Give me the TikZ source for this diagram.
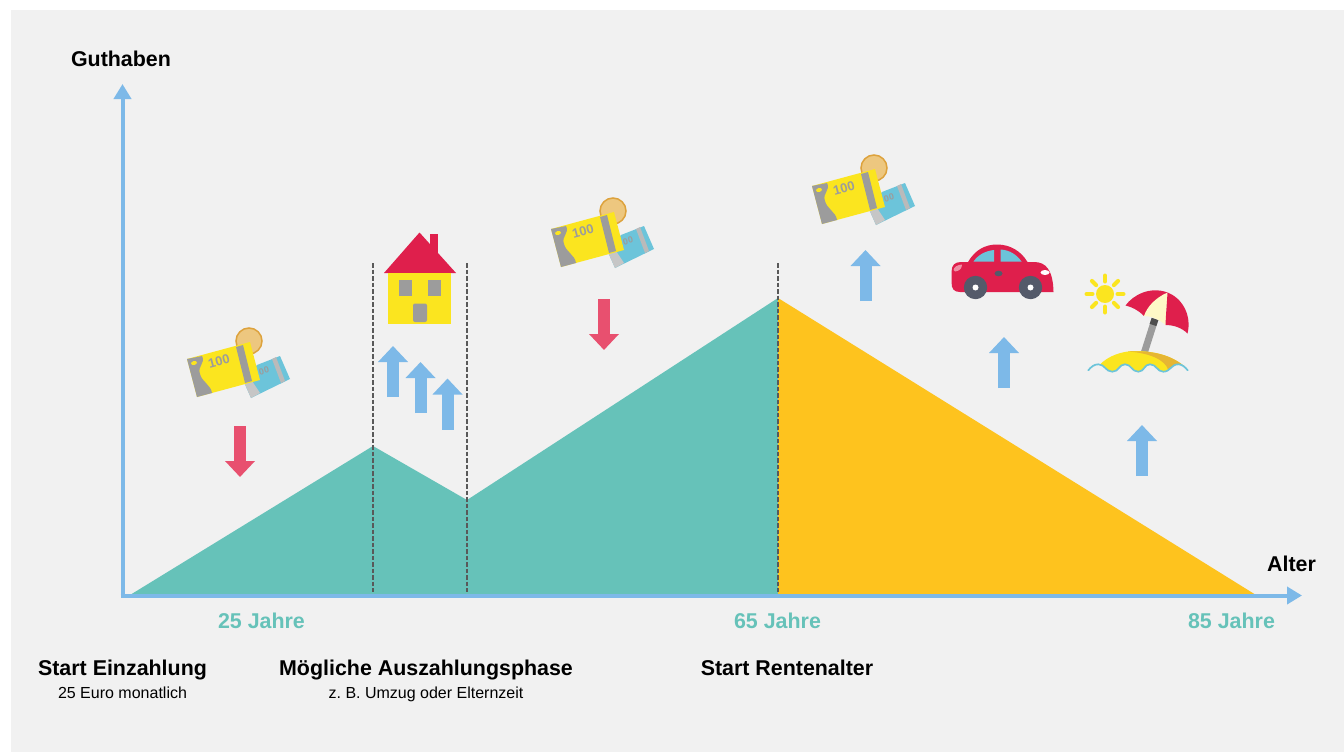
\documentclass[tikz,border=0pt]{standalone}
\usepackage{fontspec}
\setmainfont{Liberation Sans}
\usetikzlibrary{arrows.meta}
\definecolor{bggray}{HTML}{F1F1F1}
\definecolor{axisblue}{HTML}{7DB9E8}
\definecolor{downred}{HTML}{E8506F}
\definecolor{sparteal}{HTML}{66C2B9}
\definecolor{rentyellow}{HTML}{FEC31E}
\definecolor{iconred}{HTML}{DF1F4C}
\definecolor{iconyellow}{HTML}{FBE51F}
\definecolor{icongray}{HTML}{9C9C9C}
\definecolor{iconblue}{HTML}{6CC4DA}
\definecolor{wheelgray}{HTML}{545A6A}
\definecolor{coinfill}{HTML}{EDC77F}
\definecolor{coinedge}{HTML}{DDA23C}

\begin{document}
\frenchspacing
\begin{tikzpicture}[
  x=1pt, y=-1pt,
  axis/.style={draw=axisblue, line width=4pt, -{Triangle[length=15pt,width=17pt]}},
  uparrow/.style={draw=axisblue, line width=12pt, -{Triangle[length=16pt,width=29pt]}},
  downarrow/.style={draw=downred, line width=12pt, -{Triangle[length=16pt,width=29pt]}},
  marker/.style={draw=black!65, dash pattern=on 4.5pt off 2pt, line width=1.2pt},
  heading/.style={font=\bfseries\fontsize{21.4}{25}\selectfont, inner sep=0pt, anchor=base},
  agelabel/.style={font=\bfseries\fontsize{21.4}{25}\selectfont, text=sparteal, inner sep=0pt, anchor=base},
  subline/.style={font=\fontsize{16}{19}\selectfont, inner sep=0pt, anchor=base},
  pics/money/.style={code={
    \fill [coinfill, draw=coinedge, line width=1.5pt] (0,0) circle (13);
    \fill [iconblue] (31,15) -- (41,38) -- (2,57) -- (-5,41) -- (3,30) -- (8,24) -- cycle;
    \fill [gray!45] (-5,41) -- (2,57) -- (11,52) -- (3,40) -- cycle;
    \fill [icongray!70] (23,18) -- (27,16) -- (36,40) -- (32,42) -- cycle;
    \node [rotate=15, text=icongray, inner sep=0pt, font=\bfseries\fontsize{9}{9}\selectfont] (billback) at (15,30) {00};
    \fill [iconyellow] (-62,18) -- (1,1) -- (11,39) -- (-52,56) -- cycle;
    \fill [icongray] (-62,18) -- (-47,15) .. controls (-43,22) and (-52,25) .. (-49,33) .. controls (-47,41) and (-38,44) .. (-37,52) -- (-52,56) -- cycle;
    \fill [iconyellow, rotate around={15:(-55,22)}] (-55,22) ellipse (3 and 2);
    \fill [icongray] (-13,6) -- (-6,4) -- (3,40) -- (-4,42) -- cycle;
    \node [rotate=15, text=icongray, inner sep=0pt, font=\bfseries\fontsize{13}{14}\selectfont] (billfront) at (-30,20) {100};
  }}
  ]
\useasboundingbox (0,0) rectangle (1344,752);
\fill [bggray] (11,10) rectangle (1344,752);

% areas
\fill [sparteal] (130,595) -- (373,446) -- (467,500) -- (778,298) -- (778,595) -- cycle;
\fill [rentyellow] (778,298) -- (1256,595) -- (778,595) -- cycle;

% dashed markers
\coordinate (m1top) at (373,263);
\coordinate (m1bot) at (373,592);
\coordinate (m2top) at (467,263);
\coordinate (m2bot) at (467,592);
\coordinate (m3top) at (778,263);
\coordinate (m3bot) at (778,592);
\draw [marker] (m1top) -- (m1bot);
\draw [marker] (m2top) -- (m2bot);
\draw [marker] (m3top) -- (m3bot);

% axes
\coordinate (ybot) at (122.5,597.5);
\coordinate (ytip) at (122.5,84);
\coordinate (xbot) at (120.5,595.5);
\coordinate (xtip) at (1302,595.5);
\draw [axis] (ybot) -- (ytip);
\draw [axis] (xbot) -- (xtip);
\node [heading] (guthaben) at (121,66.5) {Guthaben};
\node [heading] (alter) at (1291.5,571.5) {Alter};

% arrows
\coordinate (a1s) at (393,397);
\coordinate (a1e) at (393,346);
\coordinate (a2s) at (420.5,413);
\coordinate (a2e) at (420.5,362);
\coordinate (a3s) at (447.5,429.5);
\coordinate (a3e) at (447.5,378.5);
\coordinate (a4s) at (865.5,301);
\coordinate (a4e) at (865.5,250);
\coordinate (a5s) at (1004,388);
\coordinate (a5e) at (1004,337);
\coordinate (a6s) at (1142,476);
\coordinate (a6e) at (1142,425);
\coordinate (d1s) at (240,426);
\coordinate (d1e) at (240,477);
\coordinate (d2s) at (604,299);
\coordinate (d2e) at (604,350);
\draw [uparrow] (a1s) -- (a1e);
\draw [uparrow] (a2s) -- (a2e);
\draw [uparrow] (a3s) -- (a3e);
\draw [uparrow] (a4s) -- (a4e);
\draw [uparrow] (a5s) -- (a5e);
\draw [uparrow] (a6s) -- (a6e);
\draw [downarrow] (d1s) -- (d1e);
\draw [downarrow] (d2s) -- (d2e);

% money
\pic at (249,341) {money};
\pic at (613,211) {money};
\pic at (874,168) {money};

% house
\fill [iconred] (429.5,234) -- (437.5,234) -- (437.5,255) -- (429.5,255) -- cycle;
\fill [iconred] (419.5,232.5) -- (456,273) -- (384,273) -- cycle;
\fill [iconyellow] (388,273) rectangle (451,324);
\fill [icongray] (399,280) rectangle (412,296);
\fill [icongray] (428,280) rectangle (441,296);
\fill [icongray, rounded corners=2pt] (413,322) -- (413,303.5) -- (427,303.5) -- (427,322) -- cycle;

% car
\fill [iconred] (951.5,282) -- (951.5,272) .. controls (951.5,265) and (955,262) .. (961,262)
  -- (968,262) .. controls (975,250) and (985,244.5) .. (997,244.5)
  .. controls (1010,244.5) and (1021,251) .. (1027.5,262)
  -- (1034,262) .. controls (1046,262) and (1053,270) .. (1053.5,292)
  -- (960,292) .. controls (954,292) and (951.5,289) .. (951.5,282) -- cycle;
\fill [iconblue] (973.5,261.5) .. controls (978,255) and (985,251) .. (994,250) -- (994,261.5) -- cycle;
\fill [iconblue] (1000.5,249.5) .. controls (1010,250) and (1017,255) .. (1021.5,261.5) -- (1000.5,261.5) -- cycle;
\fill [iconred!50!white] (953.5,270) .. controls (954,267) and (957,265) .. (962,264.5) .. controls (962,268) and (960,271) .. (955,271.5) -- cycle;
\fill [white] (1045,272.5) ellipse (4.5 and 2.5);
\fill [wheelgray] (998.5,273.5) ellipse (4 and 2.8);
\fill [wheelgray] (975.5,287.5) circle (11.7);
\fill [wheelgray] (1030.5,287.5) circle (11.7);
\fill [white] (975.5,287.5) circle (3);
\fill [white] (1030.5,287.5) circle (3);

% beach
\fill [iconyellow] (1105,294) circle (9);
\foreach \ang in {0,45,...,315}
  \draw [iconyellow, line width=4pt, line cap=round] (1105,294) ++(\ang:12.5) -- ++(\ang:6);
\draw [icongray, line width=7pt] (1155,319) -- (1144.5,352);
\draw [black!50!icongray, line width=7pt] (1155,319) -- (1153,325);
\fill [iconyellow] (1100,364.5) .. controls (1108,356) and (1122,351) .. (1135,351)
  .. controls (1155,351) and (1172,356) .. (1184,366)
  .. controls (1182,365) and (1180,364.3) .. (1178.3,364.3)
  .. controls (1171,364.3) and (1170.5,371.7) .. (1163.3,371.7)
  .. controls (1157,371.7) and (1156.5,364.3) .. (1150,364.3)
  .. controls (1144,364.3) and (1144.5,371.7) .. (1138.3,371.7)
  .. controls (1131.5,371.7) and (1131.5,364.3) .. (1125,364.3)
  .. controls (1119,364.3) and (1119,371.7) .. (1112.3,371.7)
  .. controls (1105.5,371.7) and (1105,364.3) .. (1098.3,364.3) -- cycle;
\fill [coinedge!70!iconyellow] (1128,351.5) .. controls (1155,350) and (1172,356) .. (1184,366)
  .. controls (1182,365) and (1180,364.3) .. (1178.3,364.3)
  .. controls (1174,364.3) and (1172,367) .. (1168,369.5)
  .. controls (1165,360) and (1150,353) .. (1128,351.5) -- cycle;
\draw [iconblue, line width=1.7pt, line cap=round] (1088.3,370.3)
  .. controls (1091,367) and (1094,364.3) .. (1098.3,364.3)
  .. controls (1105,364.3) and (1105.5,371.7) .. (1112.3,371.7)
  .. controls (1119,371.7) and (1119,364.3) .. (1125,364.3)
  .. controls (1131.5,364.3) and (1131.5,371.7) .. (1138.3,371.7)
  .. controls (1144.5,371.7) and (1144,364.3) .. (1150,364.3)
  .. controls (1156.5,364.3) and (1157,371.7) .. (1163.3,371.7)
  .. controls (1170.5,371.7) and (1171,364.3) .. (1178.3,364.3)
  .. controls (1182,364.3) and (1185,367) .. (1187.7,370.3);
\fill [iconred] (1125.5,305.5) .. controls (1133,295) and (1150,286) .. (1167.5,292.5)
  -- (1144,316) .. controls (1138,310) and (1132,307) .. (1125.5,305.5) -- cycle;
\fill [iconyellow!25!white] (1167.5,292.5) .. controls (1155,298) and (1147,307) .. (1144,316)
  .. controls (1152,316) and (1160,320) .. (1165.5,325) .. controls (1166,313) and (1167,302) .. (1167.5,292.5) -- cycle;
\fill [iconred] (1167.5,292.5) .. controls (1182,298) and (1192,315) .. (1187.5,333.5)
  .. controls (1182,328) and (1174,325) .. (1165.5,325) .. controls (1166,313) and (1167,302) .. (1167.5,292.5) -- cycle;

% labels
\node [agelabel] (age25) at (261.5,628.5) {25 Jahre};
\node [agelabel] (age65) at (777.5,628.5) {65 Jahre};
\node [agelabel] (age85) at (1231.5,628.5) {85 Jahre};
\node [heading] (start) at (122.5,675.5) {Start Einzahlung};
\node [subline] (startsub) at (122.5,698.7) {25 Euro monatlich};
\node [heading] (phase) at (426,675.5) {Mögliche Auszahlungsphase};
\node [subline] (phasesub) at (426,698.7) {z. B. Umzug oder Elternzeit};
\node [heading] (rente) at (787,675.5) {Start Rentenalter};
\end{tikzpicture}
\end{document}
